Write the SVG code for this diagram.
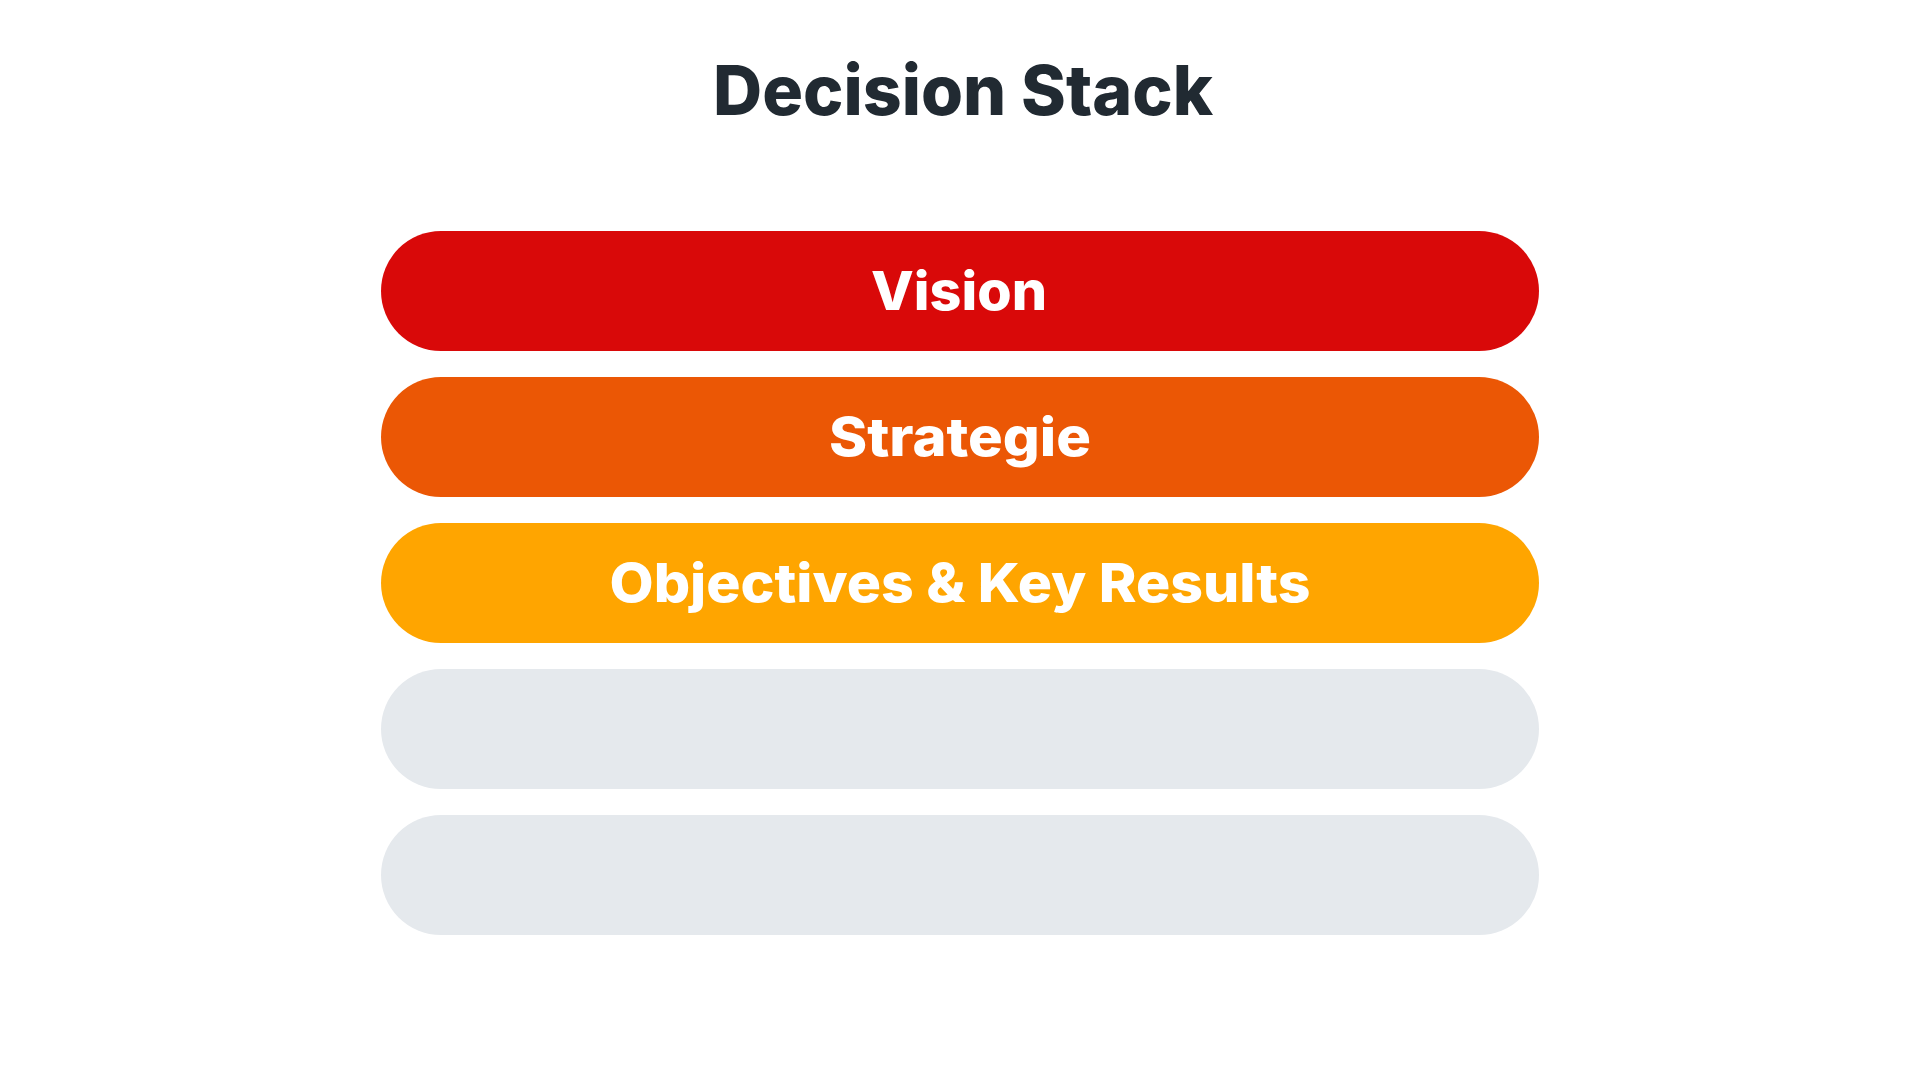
<svg xmlns="http://www.w3.org/2000/svg" width="1920" height="1080" viewBox="0 0 1920 1080">
<style>
.pill{stroke:none}
.lbl{font-family:Inter,"Noto Sans","Liberation Sans",sans-serif;font-weight:800;font-size:54px;fill:#FFFFFF;text-anchor:middle}
.title{font-family:Inter,"Noto Sans","Liberation Sans",sans-serif;font-weight:800;font-size:69px;fill:#212A32;text-anchor:middle}
</style>
<rect width="1920" height="1080" fill="#FFFFFF"/>
<g id="title"><text class="title" x="963" y="115" textLength="500" lengthAdjust="spacingAndGlyphs">Decision Stack</text></g>
<g id="vision"><rect class="pill" x="381" y="231" width="1158" height="120" rx="60" fill="#D90909"/><text class="lbl" x="959" y="310" textLength="176" lengthAdjust="spacingAndGlyphs">Vision</text></g>
<g id="strategie"><rect class="pill" x="381" y="377" width="1158" height="120" rx="60" fill="#EB5705"/><text class="lbl" x="960" y="456" textLength="262" lengthAdjust="spacingAndGlyphs">Strategie</text></g>
<g id="okr"><rect class="pill" x="381" y="523" width="1158" height="120" rx="60" fill="#FFA500"/><text class="lbl" x="960" y="602" textLength="701" lengthAdjust="spacingAndGlyphs">Objectives &amp; Key Results</text></g>
<g id="empty1"><rect class="pill" x="381" y="669" width="1158" height="120" rx="60" fill="#E5E9ED"/></g>
<g id="empty2"><rect class="pill" x="381" y="815" width="1158" height="120" rx="60" fill="#E5E9ED"/></g>
<g id="connectors"></g>
</svg>
